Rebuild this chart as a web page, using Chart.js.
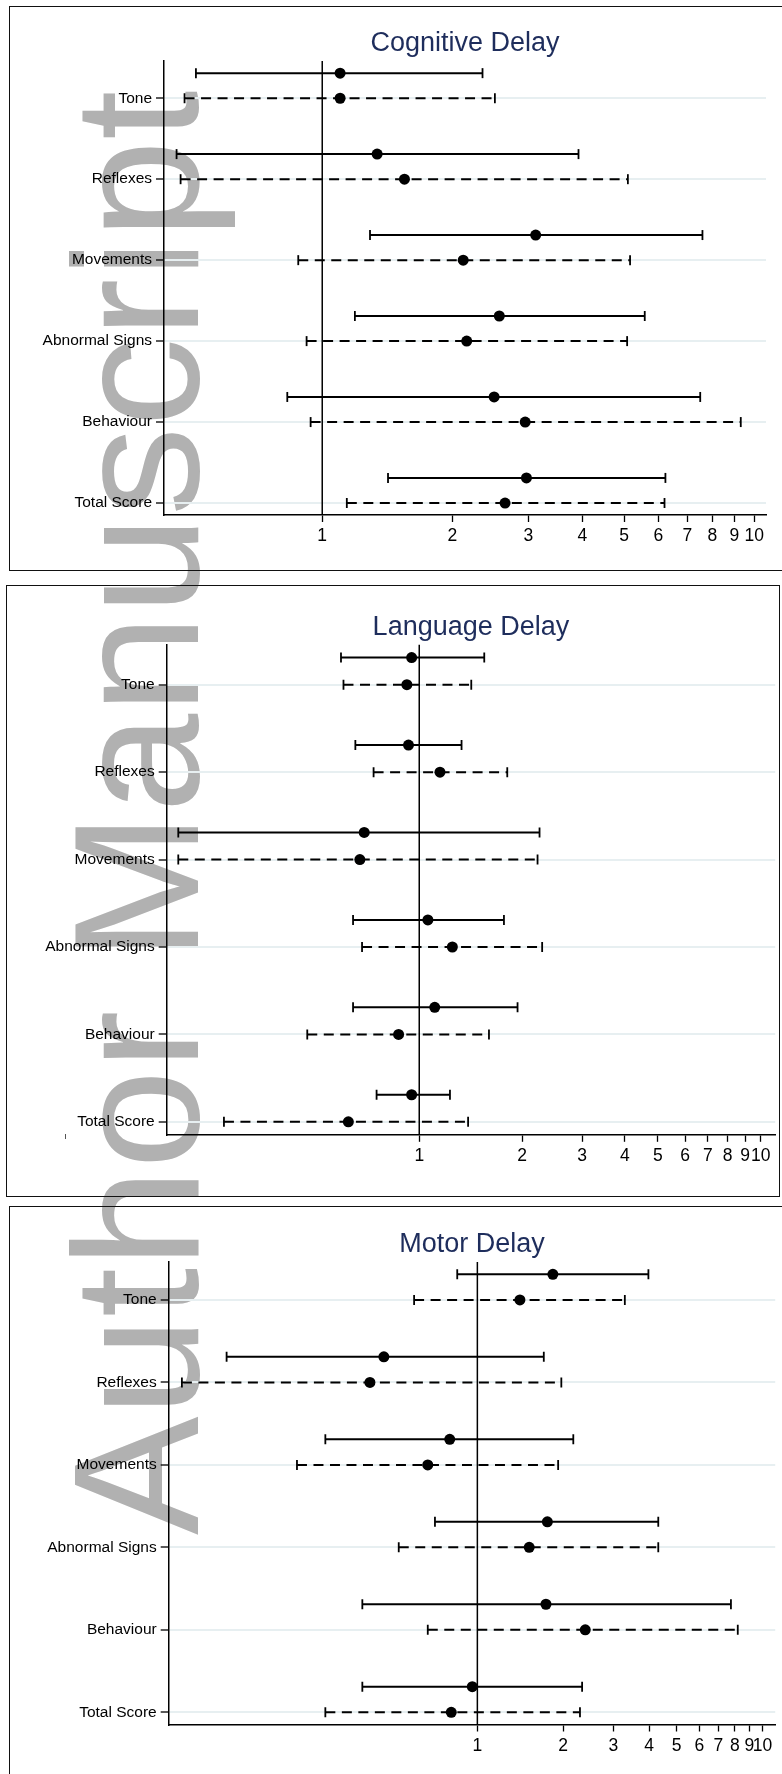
<!DOCTYPE html>
<html>
<head>
<meta charset="utf-8">
<script src="https://cdn.jsdelivr.net/npm/chart.js@4.4.1/dist/chart.umd.min.js"></script>
<style>
  html, body { margin: 0; padding: 0; background: #fff; }
  body { width: 782px; height: 1774px; position: relative; overflow: hidden; font-family: "Liberation Sans", Arial, sans-serif; }
  #wm { position: absolute; left: 0; top: 0; z-index: 0; }
  canvas { position: absolute; left: 0; z-index: 2; }
  .frame { position: absolute; border: 1.5px solid #111; box-sizing: border-box; z-index: 1; }
  .tick { position: absolute; background: #555; z-index: 1; }
</style>
</head>
<body>
<svg id="wm" width="782" height="1774" xmlns="http://www.w3.org/2000/svg">
  <text x="198" y="1535" transform="rotate(-90 198 1535)" font-family="Liberation Sans, Arial, sans-serif" font-size="178" fill="#b1b1b1">Author Manuscript</text>
</svg>
<div class="frame" style="left:9px;top:6px;width:800px;height:565px;"></div>
<div class="frame" style="left:6px;top:585px;width:774px;height:612px;"></div>
<div class="frame" style="left:9px;top:1206px;width:800px;height:600px;"></div>
<div class="tick" style="left:65px;top:1134px;width:1px;height:5px;"></div>
<canvas id="c1" width="782" height="575" style="top:0px"></canvas>
<canvas id="c2" width="782" height="620" style="top:580px"></canvas>
<canvas id="c3" width="782" height="574" style="top:1200px"></canvas>
<script>
// ---------- data ----------
const categories = ["Tone", "Reflexes", "Movements", "Abnormal Signs", "Behaviour", "Total Score"];
const rowValues = [6, 5, 4, 3, 2, 1];
const xTickValues = [1, 2, 3, 4, 5, 6, 7, 8, 9, 10];
const panelTitles = ["Cognitive Delay", "Language Delay", "Motor Delay"];

// Cognitive delay
const cogSolidEst  = [1.10, 1.34, 3.12, 2.57, 2.50, 2.97];
const cogSolidLo   = [0.51, 0.46, 1.29, 1.19, 0.83, 1.42];
const cogSolidHi   = [2.35, 3.92, 7.59, 5.58, 7.50, 6.23];
const cogDashEst   = [1.10, 1.55, 2.12, 2.16, 2.95, 2.65];
const cogDashLo    = [0.48, 0.47, 0.88, 0.92, 0.94, 1.14];
const cogDashHi    = [2.51, 5.10, 5.16, 5.08, 9.31, 6.20];

// Language delay
const langSolidEst = [0.95, 0.93, 0.69, 1.06, 1.11, 0.95];
const langSolidLo  = [0.59, 0.65, 0.197, 0.64, 0.64, 0.75];
const langSolidHi  = [1.55, 1.33, 2.25, 1.77, 1.94, 1.23];
const langDashEst  = [0.92, 1.15, 0.67, 1.25, 0.87, 0.62];
const langDashLo   = [0.60, 0.735, 0.197, 0.68, 0.47, 0.268];
const langDashHi   = [1.42, 1.81, 2.22, 2.29, 1.60, 1.39];

// Motor delay
const motSolidEst  = [1.84, 0.47, 0.80, 1.76, 1.74, 0.96];
const motSolidLo   = [0.85, 0.132, 0.293, 0.71, 0.395, 0.395];
const motSolidHi   = [3.98, 1.71, 2.17, 4.31, 7.75, 2.33];
const motDashEst   = [1.41, 0.42, 0.67, 1.52, 2.39, 0.81];
const motDashLo    = [0.60, 0.092, 0.233, 0.53, 0.67, 0.293];
const motDashHi    = [3.29, 1.97, 1.92, 4.31, 8.19, 2.29];

// ---------- layout / style ----------
const Y_MIN = 0.852, Y_MAX = 6.46, SOLID_OFFSET = 0.31;
const FONT = '"Liberation Sans", Arial, Helvetica, sans-serif';
Chart.defaults.font.family = FONT;
Chart.defaults.color = '#000';

const layouts = [
  { id: 'c1', xMin: 0.4302, xMax: 10.65, yWidth: 164,   padRight: 16, padBottom: 15,   titleTop: 27.5,
    series: [cogSolidEst, cogSolidLo, cogSolidHi, cogDashEst, cogDashLo, cogDashHi] },
  { id: 'c2', xMin: 0.1822, xMax: 11.02, yWidth: 166.7, padRight: 4,  padBottom: 20.2, titleTop: 31.0,
    series: [langSolidEst, langSolidLo, langSolidHi, langDashEst, langDashLo, langDashHi] },
  { id: 'c3', xMin: 0.0827, xMax: 11.08, yWidth: 168.7, padRight: 0,  padBottom: 4.5,  titleTop: 28.5,
    series: [motSolidEst, motSolidLo, motSolidHi, motDashEst, motDashLo, motDashHi] }
];

function segment(lo, hi, y, dashed) {
  return {
    type: 'scatter', showLine: true, order: 1,
    data: [{ x: lo, y: y }, { x: hi, y: y }],
    borderColor: '#000', borderWidth: 2,
    borderDash: dashed ? [10, 6.5] : [],
    pointStyle: 'line', pointRotation: 90, pointRadius: 5,
    pointBorderColor: '#000', pointBorderWidth: 1.8, pointBackgroundColor: '#000'
  };
}

layouts.forEach((L, p) => {
  const [sEst, sLo, sHi, dEst, dLo, dHi] = L.series;
  const datasets = [];
  // markers (on top)
  datasets.push({
    type: 'scatter', order: 0,
    data: rowValues.map((r, i) => ({ x: sEst[i], y: r + SOLID_OFFSET }))
      .concat(rowValues.map((r, i) => ({ x: dEst[i], y: r }))),
    pointStyle: 'circle', pointRadius: 5.5, backgroundColor: '#000', borderColor: '#000', borderWidth: 0
  });
  rowValues.forEach((r, i) => {
    datasets.push(segment(sLo[i], sHi[i], r + SOLID_OFFSET, false));
    datasets.push(segment(dLo[i], dHi[i], r, true));
  });
  // reference line at 1
  datasets.push({
    type: 'scatter', showLine: true, order: 2,
    data: [{ x: 1, y: Y_MIN }, { x: 1, y: Y_MAX }],
    borderColor: '#000', borderWidth: 1.5, pointRadius: 0
  });

  new Chart(document.getElementById(L.id), {
    type: 'scatter',
    data: { datasets },
    options: {
      responsive: false, animation: false, events: [], devicePixelRatio: 1,
      layout: { padding: { left: 0, top: 0, right: L.padRight, bottom: L.padBottom } },
      plugins: {
        legend: { display: false }, tooltip: { enabled: false },
        title: {
          display: true, text: panelTitles[p], fullSize: false, color: '#1e2d5c',
          font: { size: 27, weight: 'normal', family: FONT, lineHeight: 1.2 },
          padding: { top: L.titleTop, bottom: 1.1 }
        }
      },
      scales: {
        x: {
          type: 'logarithmic', min: L.xMin, max: L.xMax, bounds: 'data',
          afterBuildTicks: s => { s.ticks = xTickValues.map(v => ({ value: v })); },
          afterFit: s => { s.height = 45; s.paddingLeft = 0; s.paddingRight = 0; },
          ticks: { autoSkip: false, maxRotation: 0, minRotation: 0, padding: 4, color: '#000',
                   font: { size: 17.5, family: FONT }, callback: v => String(v) },
          grid: { drawOnChartArea: false, drawTicks: true, tickLength: 7, tickColor: '#000', tickWidth: 1.3 },
          border: { display: true, color: '#000', width: 1.5 }
        },
        y: {
          type: 'linear', min: Y_MIN, max: Y_MAX,
          afterBuildTicks: s => { s.ticks = rowValues.map(v => ({ value: v })); },
          afterFit: s => { s.width = L.yWidth; s.paddingTop = 0; s.paddingBottom = 0; },
          ticks: { autoSkip: false, padding: 4, color: '#000', font: { size: 15.5, family: FONT },
                   callback: v => categories[rowValues.indexOf(Math.round(v))] },
          grid: { color: '#e7eff1', lineWidth: 2, drawTicks: true, tickLength: 8, tickColor: '#000', tickWidth: 1.3 },
          border: { display: true, color: '#000', width: 1.5 }
        }
      }
    }
  });
});
</script>
</body>
</html>
